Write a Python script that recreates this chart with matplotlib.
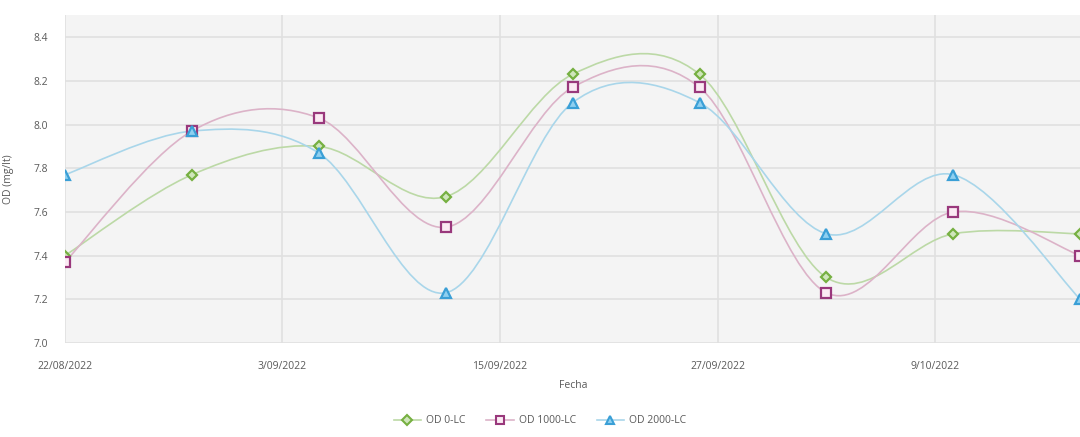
"""OD por fecha: curvas suavizadas tipo Excel para tres tratamientos."""

import datetime as dt

import numpy as np
import matplotlib
matplotlib.use("Agg")
import matplotlib.pyplot as plt
import matplotlib.dates as mdates
from matplotlib.path import Path
from matplotlib.patches import PathPatch
from matplotlib.lines import Line2D
from matplotlib.ticker import FuncFormatter, MultipleLocator


# --- datos ---
fechas = ["2022-08-22", "2022-08-29", "2022-09-05", "2022-09-12", "2022-09-19",
          "2022-09-26", "2022-10-03", "2022-10-10", "2022-10-17"]
od_0 = [7.40, 7.77, 7.90, 7.67, 8.23, 8.23, 7.30, 7.50, 7.50]
od_1000 = [7.37, 7.97, 8.03, 7.53, 8.17, 8.17, 7.23, 7.60, 7.40]
od_2000 = [7.77, 7.97, 7.87, 7.23, 8.10, 8.10, 7.50, 7.77, 7.20]
nombres = ["OD 0-LC", "OD 1000-LC", "OD 2000-LC"]
# -------------------------------

TXT = "#595959"
plt.rcParams["font.family"] = ["Open Sans", "DejaVu Sans"]

x = mdates.date2num([dt.datetime.strptime(f, "%Y-%m-%d") for f in fechas])


def curva_suave(xs, ys):
    """Path Bezier como el 'suavizado' de Excel (Catmull-Rom)."""
    p = np.column_stack([xs, ys])
    ext = np.vstack([p[0], p, p[-1]])
    verts = [p[0]]
    codes = [Path.MOVETO]
    for i in range(len(p) - 1):
        p0, p1, p2, p3 = ext[i], ext[i + 1], ext[i + 2], ext[i + 3]
        c1 = p1 + (p2 - p0) / 6.0
        c2 = p2 - (p3 - p1) / 6.0
        verts += [c1, c2, p2]
        codes += [Path.CURVE4] * 3
    return Path(verts, codes)


series = [
    # valores, color línea, marcador, borde, relleno, tamaño
    (od_0, "#bcd9a6", "D", "#76b041", "#cfe6bb", 5.5),
    (od_1000, "#dcb3c8", "s", "#99387c", "#fbeaf3", 7),
    (od_2000, "#a9d6ea", "^", "#3a9fd6", "#8fd0f0", 7),
]

fig = plt.figure(figsize=(10.8, 4.37), dpi=100)
ax = fig.add_axes([0.060, 0.215, 0.942, 0.750])
ax.set_facecolor("#f4f4f4")

for vals, lc, mk, mec, mfc, ms in series:
    ax.add_patch(PathPatch(curva_suave(x, vals), fill=False, edgecolor=lc,
                           lw=1.2, zorder=3))
    ax.plot(x, vals, linestyle="none", marker=mk, ms=ms, mec=mec, mfc=mfc,
            mew=1.6, zorder=4)

ax.set_xlim(x[0], x[-1] + 0.1)
ax.set_ylim(7.0, 8.5)
ax.yaxis.set_major_locator(MultipleLocator(0.2))
ax.yaxis.set_major_formatter(FuncFormatter(lambda v, p: f"{v:.1f}" if v < 8.45 else ""))
ticks = np.arange(x[0], x[-1] + 1, 12)
ax.set_xticks(ticks)
ax.xaxis.set_major_formatter(FuncFormatter(
    lambda v, p: f"{mdates.num2date(v).day}/{mdates.num2date(v).month:02d}/{mdates.num2date(v).year}"))

ax.grid(True, color="#e0e0e0", lw=1.2, zorder=0)
ax.set_axisbelow(True)
for s in ax.spines.values():
    s.set_visible(False)
ax.tick_params(axis="x", length=0, labelsize=7.5, colors=TXT, pad=13)
ax.tick_params(axis="y", length=0, labelsize=7.5, colors=TXT, pad=12)

ax.set_xlabel("Fecha", fontsize=7.5, color=TXT, labelpad=6)
ax.set_ylabel("OD (mg/lt)", fontsize=7.5, color=TXT, labelpad=14)

handles = [Line2D([0], [0], color=lc, lw=1.2, marker=mk, ms=ms * 0.85, mec=mec,
                  mfc=mfc, mew=1.5) for _, lc, mk, mec, mfc, ms in series]
fig.legend(handles, nombres, loc="center", bbox_to_anchor=(0.5, 0.037), ncol=3,
           frameon=False, fontsize=7.5, labelcolor=TXT, handlelength=2.6,
           columnspacing=2.0, handletextpad=0.5)

fig.savefig("out.png", dpi=100, facecolor="white")
